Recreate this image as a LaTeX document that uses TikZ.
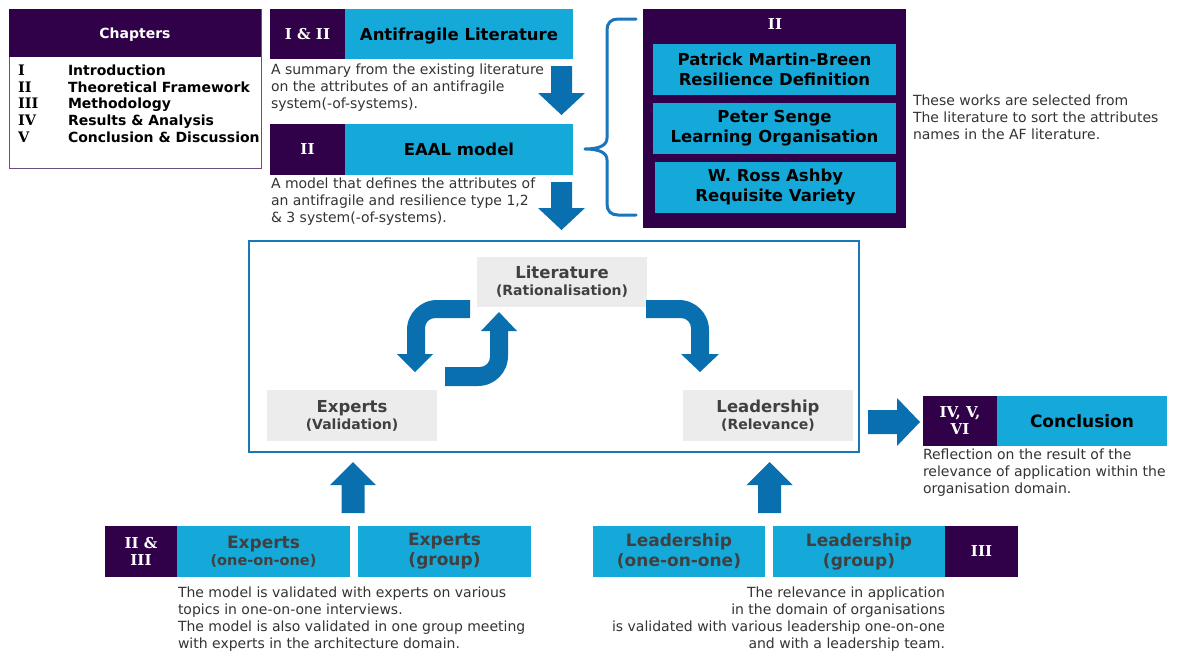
\documentclass[tikz,border=0pt]{standalone}
\usepackage{fontspec}
\setmainfont{DejaVu Sans}
\newfontfamily\numfont{DejaVu Serif}
\definecolor{purp}{HTML}{300048}
\definecolor{cyanb}{HTML}{15A9DA}
\definecolor{arrowb}{HTML}{0A6FAE}
\definecolor{braceb}{HTML}{1B75BB}
\definecolor{frameb}{HTML}{1A78B8}
\definecolor{grayb}{HTML}{ECECEC}
\definecolor{gtext}{HTML}{404040}
\definecolor{dtext}{HTML}{333333}
\tikzset{
 box/.style={inner sep=0pt, outer sep=0pt, draw=none, align=center},
 pbox/.style={box, fill=purp, text=white, font=\numfont\bfseries\fontsize{15}{17}\selectfont},
 cbox/.style={box, fill=cyanb, text=black, font=\bfseries\fontsize{16.5}{20}\selectfont},
 ebox/.style={box, fill=cyanb, text=gtext, font=\bfseries\fontsize{17}{20}\selectfont},
 gbox/.style={box, fill=grayb, text=gtext, font=\bfseries\fontsize{16.5}{19}\selectfont},
 desc/.style={inner sep=0pt, outer sep=0pt, text=dtext, font=\fontsize{14}{17}\selectfont},
 chap/.style={inner sep=0pt, outer sep=0pt, anchor=base west, text=black, font=\bfseries\fontsize{14}{16}\selectfont},
 chapn/.style={chap, font=\numfont\bfseries\fontsize{14.5}{16}\selectfont},
 barrow/.style={fill=arrowb, draw=none},
}
\begin{document}
\begin{tikzpicture}[x=1pt,y=-1pt]
\useasboundingbox (0,0) rectangle (1179,651);

% Chapters
\node[box, draw=purp!70, line width=0.8pt, fill=white, minimum width=252pt, minimum height=159pt] (chapbox) at (135,88.5) {};
\node[box, fill=purp, minimum width=252pt, minimum height=48pt] (chaphead) at (135,33) {};
\node[inner sep=0pt, anchor=base, text=white, font=\bfseries\fontsize{14}{16}\selectfont] (chapt) at (135,38) {Chapters};
\node[chapn] (n1) at (18,75) {I};
\node[chap] (t1) at (68,75) {Introduction};
\node[chapn] (n2) at (18,92) {II};
\node[chap] (t2) at (68,92) {Theoretical Framework};
\node[chapn] (n3) at (18,108.5) {III};
\node[chap] (t3) at (68,108.5) {Methodology};
\node[chapn] (n4) at (18,125) {IV};
\node[chap] (t4) at (68,125) {Results \& Analysis};
\node[chapn] (n5) at (18,142) {V};
\node[chap] (t5) at (68,142) {Conclusion \& Discussion};

% Antifragile literature
\node[pbox, minimum width=75pt, minimum height=50pt] (p1) at (307.5,34) {I \& II};
\node[cbox, minimum width=228pt, minimum height=50pt] (c1) at (459,34) {};
\node[inner sep=0pt, anchor=base, font=\bfseries\fontsize{16.5}{20}\selectfont] (c1t) at (459,40) {Antifragile Literature};
\node[desc, anchor=north west, align=left] (d1) at (271,64) {A summary from the existing literature\\on the attributes of an antifragile\\system(-of-systems).};

% EAAL
\node[pbox, minimum width=75pt, minimum height=51pt] (p2) at (307.5,149) {II};
\node[cbox, minimum width=228pt, minimum height=51pt] (c2) at (459,149) {EAAL model};
\node[desc, anchor=north west, align=left] (d2) at (271,178) {A model that defines the attributes of\\an antifragile and resilience type 1,2\\\& 3 system(-of-systems).};

% down arrows
\fill[barrow] (551,66) -- (572,66) -- (572,93) -- (585,93) -- (561.5,115) -- (538,93) -- (551,93) -- cycle;
\fill[barrow] (551,182) -- (572,182) -- (572,208) -- (585,208) -- (561.5,230) -- (538,208) -- (551,208) -- cycle;

% brace
\draw[braceb, line width=3pt, line cap=round, line join=round] (636,19) -- (618,19) .. controls (611,19) and (607,23) .. (607,30) -- (607,138) .. controls (607,145) and (600,149) .. (585,149) .. controls (600,149) and (607,153) .. (607,160) -- (607,204) .. controls (607,211) and (611,215) .. (618,215) -- (636,215);

% works box
\node[box, fill=purp, minimum width=263pt, minimum height=219pt] (works) at (774.5,118.5) {};
\node[box, text=white, font=\numfont\bfseries\fontsize{15}{17}\selectfont] (wn) at (775,24) {II};
\node[cbox, minimum width=243pt, minimum height=51pt] (w1) at (774.5,69.5) {Patrick Martin-Breen\\Resilience Definition};
\node[cbox, minimum width=243pt, minimum height=51pt] (w2) at (774.5,128.5) {Peter Senge\\Learning Organisation};
\node[cbox, minimum width=241pt, minimum height=51pt] (w3) at (775.5,187.5) {W. Ross Ashby\\Requisite Variety};
\node[desc, anchor=north west, align=left] (d3) at (913,95) {These works are selected from\\The literature to sort the attributes\\names in the AF literature.};

% main frame
\node[box, draw=frameb, line width=2pt, minimum width=610pt, minimum height=211pt] (frame) at (554,346.5) {};
\node[gbox, minimum width=170pt, minimum height=50pt] (lit) at (562,282) {Literature\\[-2pt]{\fontsize{14}{16}\selectfont (Rationalisation)}};
\node[gbox, minimum width=170pt, minimum height=51pt] (exp) at (352,415.5) {Experts\\[-2pt]{\fontsize{14}{16}\selectfont (Validation)}};
\node[gbox, minimum width=170pt, minimum height=51pt] (lead) at (768,415.5) {Leadership\\[-2pt]{\fontsize{14}{16}\selectfont (Relevance)}};

% curved arrows
\fill[barrow] (470,300) -- (437,300) .. controls (420.4,300) and (407,313.4) .. (407,330) -- (407,354) -- (397,354) -- (415,372) -- (433,354) -- (425,354) -- (425,328) .. controls (425,322.5) and (429.5,318) .. (435,318) -- (470,318) -- cycle;
\fill[barrow] (445,386) -- (478,386) .. controls (494.6,386) and (508,372.6) .. (508,356) -- (508,331) -- (517,331) -- (499,312) -- (481,331) -- (490,331) -- (490,357) .. controls (490,362.5) and (485.5,367) .. (480,367) -- (445,367) -- cycle;
\fill[barrow] (646,300) -- (679,300) .. controls (695.6,300) and (709,313.4) .. (709,330) -- (709,354) -- (719,354) -- (700,372) -- (681,354) -- (691,354) -- (691,328) .. controls (691,322.5) and (686.5,318) .. (681,318) -- (646,318) -- cycle;

% arrow to conclusion
\fill[barrow] (868,410) -- (897,410) -- (897,398) -- (920,422) -- (897,446) -- (897,434) -- (868,434) -- cycle;

% conclusion
\node[pbox, minimum width=74pt, minimum height=50pt] (p3) at (960,421) {IV, V,\\VI};
\node[cbox, font=\bfseries\fontsize{17}{20}\selectfont, minimum width=170pt, minimum height=50pt] (c3) at (1082,421) {Conclusion};
\node[desc, anchor=north west, align=left] (d4) at (923,449) {Reflection on the result of the\\relevance of application within the\\organisation domain.};

% up arrows
\fill[barrow] (341.5,513) -- (364.5,513) -- (364.5,485) -- (376,485) -- (353,462) -- (330,485) -- (341.5,485) -- cycle;
\fill[barrow] (758,513) -- (781,513) -- (781,485) -- (792.5,485) -- (769.5,462) -- (746.5,485) -- (758,485) -- cycle;

% bottom left
\node[pbox, minimum width=72pt, minimum height=51pt] (p4) at (141,551.5) {II \&\\III};
\node[ebox, minimum width=173pt, minimum height=51pt] (e1) at (263.5,551.5) {Experts\\[-3pt]{\fontsize{14.5}{16}\selectfont (one-on-one)}};
\node[ebox, minimum width=173pt, minimum height=51pt] (e2) at (444.5,551.5) {Experts\\(group)};
\node[desc, anchor=north west, align=left] (d5) at (178,587) {The model is validated with experts on various\\topics in one-on-one interviews.\\The model is also validated in one group meeting\\with experts in the architecture domain.};

% bottom right
\node[ebox, minimum width=172pt, minimum height=51pt] (l1) at (679,551.5) {Leadership\\(one-on-one)};
\node[ebox, minimum width=172pt, minimum height=51pt] (l2) at (859,551.5) {Leadership\\(group)};
\node[pbox, minimum width=73pt, minimum height=51pt] (p5) at (981.5,551.5) {III};
\node[desc, anchor=north east, align=right] (d6) at (945,587) {The relevance in application\\in the domain of organisations\\is validated with various leadership one-on-one\\and with a leadership team.};

\end{tikzpicture}
\end{document}
